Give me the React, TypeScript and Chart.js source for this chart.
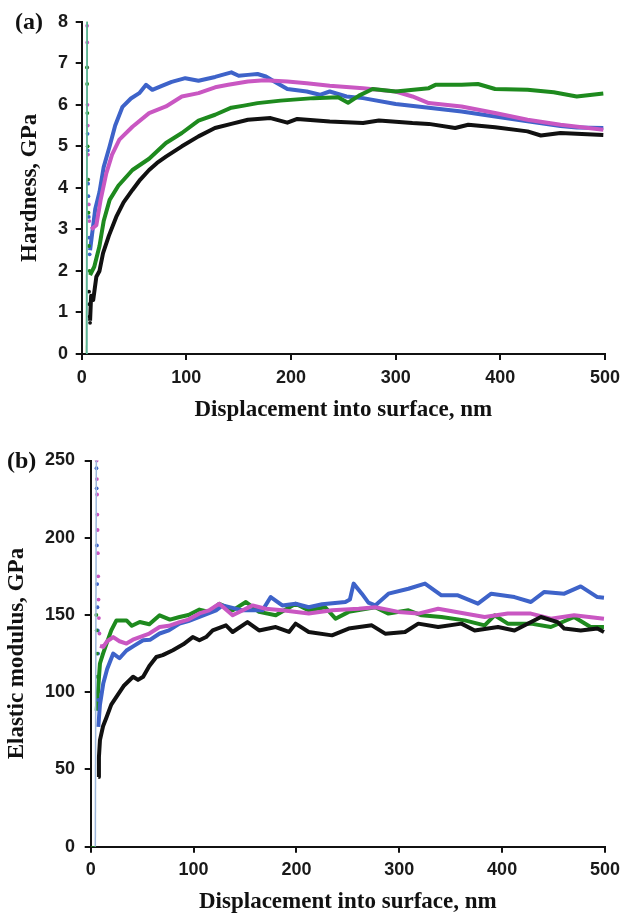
import React, { useEffect, useRef } from 'react';
import { Chart, registerables } from 'chart.js';

Chart.register(...registerables);

// ---------- tick labels ----------
const xTickValues = [0, 100, 200, 300, 400, 500];
const hardnessTickValues = [0, 1, 2, 3, 4, 5, 6, 7, 8];
const modulusTickValues = [0, 50, 100, 150, 200, 250];

// ---------- (a) Hardness, GPa vs displacement, nm ----------
const hardnessBlue: [number, number][] = [
  [8, 2.5], [10, 2.9], [13, 3.5], [17, 3.9], [21, 4.5], [26.7, 5.0], [32, 5.5], [39, 5.95], [47, 6.15],
  [55, 6.28], [61.5, 6.48], [67.5, 6.36], [76, 6.45], [86, 6.55], [99, 6.64], [111.6, 6.58], [127.5, 6.67],
  [143, 6.78], [150, 6.7], [158.8, 6.72], [168, 6.74], [176, 6.68], [184, 6.56], [196.5, 6.38], [215, 6.32],
  [227.6, 6.24], [237, 6.32], [253, 6.2], [268.8, 6.16], [300, 6.02], [331.6, 5.93], [363, 5.84], [395, 5.72],
  [426, 5.6], [457.5, 5.49], [473, 5.45], [498.4, 5.44],
];
const hardnessMagenta: [number, number][] = [
  [9, 3.0], [14, 3.1], [18, 3.7], [23.5, 4.35], [29, 4.8], [36, 5.16], [48.5, 5.47], [64.4, 5.8], [80.5, 5.96],
  [95.7, 6.2], [111.6, 6.28], [127.5, 6.42], [140, 6.48], [158.8, 6.56], [174.5, 6.59], [196.5, 6.56], [215, 6.52],
  [237, 6.46], [268.8, 6.4], [300, 6.32], [316, 6.2], [331.6, 6.04], [363, 5.96], [395, 5.8], [426, 5.64],
  [457.5, 5.52], [498.4, 5.4],
];
const hardnessGreen: [number, number][] = [
  [8, 1.9], [12, 2.1], [17, 2.6], [21, 3.2], [26.7, 3.71], [35, 4.05], [48.5, 4.43], [64.4, 4.7], [80.5, 5.08],
  [95.7, 5.32], [111.6, 5.62], [127.5, 5.76], [143, 5.93], [155, 5.98], [168, 6.04], [190, 6.1], [221.5, 6.16],
  [245, 6.18], [254.5, 6.05], [265, 6.22], [278, 6.38], [300, 6.32], [331.6, 6.4], [338, 6.48], [363, 6.48],
  [378.6, 6.5], [395, 6.38], [426, 6.36], [451, 6.3], [473, 6.2], [498.4, 6.27],
];
const hardnessBlack: [number, number][] = [
  [8, 0.8], [9, 1.4], [11, 1.3], [14, 1.86], [17, 2.0], [20.4, 2.43], [26, 2.85], [33, 3.3], [40, 3.65],
  [48.5, 3.95], [56, 4.2], [64.4, 4.43], [72, 4.6], [80.5, 4.75], [95.7, 5.0], [111.6, 5.24], [127.3, 5.44],
  [143, 5.54], [158.8, 5.64], [180.5, 5.68], [196.5, 5.57], [206, 5.66], [237, 5.6], [268.8, 5.56], [284, 5.62],
  [316, 5.56], [331.6, 5.54], [356.9, 5.44], [369.4, 5.52], [395, 5.46], [426, 5.36], [438.7, 5.26],
  [457.5, 5.32], [498.4, 5.27],
];
// scattered points of the initial contact spike
const hardnessSpikeMagenta: [number, number][] = [
  [5.2, 7.9], [5.3, 7.5], [5.4, 6.9], [5.5, 6.0], [5.8, 5.5], [6, 4.8], [6.3, 4.2], [6.8, 3.6], [7.3, 3.2],
];
const hardnessSpikeGreen: [number, number][] = [
  [5.0, 6.9], [5.2, 6.5], [5.4, 5.8], [5.7, 5.0], [6.0, 4.2], [6.5, 3.4], [7, 2.6], [7.5, 2.0],
];
const hardnessSpikeBlue: [number, number][] = [
  [5.6, 5.3], [5.8, 4.9], [6.1, 4.1], [6.4, 3.8], [6.8, 3.3], [7.2, 2.8], [7.6, 2.4],
];
const hardnessSpikeBlack: [number, number][] = [[7.0, 1.5], [7.3, 1.2], [7.6, 0.9], [8, 0.75]];
const hardnessLoadTeal: [number, number][] = [[4.3, 0], [5.0, 8.5]];
const hardnessLoadGreen: [number, number][] = [[4.6, 0], [5.2, 8.5]];

// ---------- (b) Elastic modulus, GPa vs displacement, nm ----------
const modulusGreen: [number, number][] = [
  [5.8, 88], [7, 100], [9, 118.6], [12, 125], [15.5, 131.6], [20, 140], [25, 146.5], [34.8, 146.5], [40, 143],
  [47.7, 145.5], [57, 144], [67, 149.8], [77, 147], [86.4, 148.7], [95, 150], [105.7, 153.5], [115, 152],
  [125, 157.3], [138, 153], [150.9, 158.4], [163.7, 152], [179.9, 149.8], [199.2, 157.3], [212, 153], [228, 155],
  [238, 147.6], [250.8, 152], [276.6, 155], [289.5, 150.9], [308.9, 153], [321.7, 149.8], [341, 148.7],
  [363.6, 146.5], [383, 143.3], [392.7, 149.8], [405.5, 144.4], [428, 144.4], [447.4, 142.2], [470, 148.7],
  [486, 142.2], [499, 142.2],
];
const modulusBlue: [number, number][] = [
  [7.4, 77.6], [9, 92], [12.2, 105.6], [16, 115], [21.9, 125], [28, 122], [34.8, 127], [42, 130], [50.9, 133.6],
  [58, 134], [67, 138], [76, 140], [86.4, 144.4], [95, 146], [105.7, 148.7], [121.9, 153], [128.2, 156.2],
  [147.6, 153], [167, 153], [175, 161.6], [186.3, 156.2], [199.2, 157.3], [212, 155], [225, 156.9], [247.6, 158.4],
  [252, 160], [255.6, 170.3], [263.6, 163.8], [270, 158], [276.6, 156.2], [289.5, 163.8], [308.9, 167],
  [325, 170.3], [341, 162.7], [357, 162.7], [376.5, 157.3], [389.4, 163.8], [412, 161.6], [428, 158.4],
  [441, 164.9], [460.4, 163.8], [476.4, 168.5], [492.6, 161.6], [499, 161.2],
];
const modulusMagenta: [number, number][] = [
  [9, 130], [12.2, 129.3], [16, 133], [21.9, 135.7], [28, 133], [34.8, 131.5], [41, 134], [47.7, 135.7], [57, 138],
  [67, 142.2], [76, 143], [86.4, 145.4], [95, 147], [105.7, 151], [115, 153], [125, 157.3], [138, 149.8],
  [157.4, 156.2], [170, 154], [186.3, 153], [212, 150.9], [234.6, 153], [260.5, 154], [276.6, 155], [299.2, 152],
  [318.5, 150.9], [337.8, 154], [363.6, 150.9], [383, 148.7], [405.5, 150.9], [428, 150.9], [447.4, 147.6],
  [470, 149.8], [499, 147.6],
];
const modulusBlack: [number, number][] = [
  [7.4, 45.2], [8, 58], [9, 69], [12, 78], [15.5, 84], [20, 92], [25, 97], [32, 104], [41.2, 110], [46, 108],
  [51, 110], [57, 117], [63.8, 122.8], [70, 124], [79.9, 127.2], [90, 131], [99.2, 135.7], [105.7, 133.6],
  [112.2, 135.7], [118.6, 140], [131.5, 143.3], [138, 139], [152.4, 145.4], [163.7, 140], [179.9, 142.2],
  [192.8, 139], [199.2, 144.4], [212, 139], [234.6, 136.8], [250.8, 141.2], [273.3, 143.3], [286.3, 137.9],
  [305.6, 139], [318.5, 144.4], [337.8, 142.2], [360.4, 144.4], [373.3, 140], [396, 142.2], [412, 140],
  [437.7, 148.7], [454, 145.4], [460.4, 141.2], [476.4, 140], [492.6, 141.2], [499, 139],
];
const modulusSpikeMagenta: [number, number][] = [
  [5.8, 250], [6, 238], [6.2, 228], [6.5, 215], [6.7, 205], [7, 190], [7.3, 175], [7.6, 160], [8, 148], [8.5, 138],
];
const modulusSpikeBlue: [number, number][] = [
  [5.6, 245], [5.8, 232], [6, 195], [6.3, 170], [6.6, 155], [6.9, 140], [7.2, 125], [7.4, 95],
];
const modulusSpikeGreen: [number, number][] = [[5.5, 150], [5.8, 140], [6.1, 125], [6.4, 110], [6.6, 100]];
const modulusLoadBlue: [number, number][] = [[4.5, 0], [5.5, 260]];
const modulusBaseGreen: [number, number][] = [[0, 0], [5, 0]];

const COLORS = {
  blue: '#3e63c9',
  magenta: '#c957c2',
  green: '#1e8a1e',
  black: '#111111',
  teal: '#6fbfb3',
  lightBlue: '#9db8dc',
};

const toXY = (arr: [number, number][]) => arr.map(([x, y]) => ({ x, y }));

const curve = (arr: [number, number][], color: string) => ({
  data: toXY(arr),
  showLine: true,
  borderColor: color,
  borderWidth: 4,
  pointRadius: 0,
  tension: 0,
  borderJoinStyle: 'round' as const,
});
const dots = (arr: [number, number][], color: string) => ({
  data: toXY(arr),
  showLine: false,
  pointRadius: 1.9,
  pointBorderWidth: 0,
  pointBackgroundColor: color,
});
const thin = (arr: [number, number][], color: string) => ({
  data: toXY(arr),
  showLine: true,
  borderColor: color,
  borderWidth: 1.5,
  pointRadius: 0,
});

const TICK_FONT = { family: "'Liberation Sans', Arial, sans-serif", weight: 'bold' as const, size: 18 };
const TITLE_FONT = { family: "'Liberation Serif', 'Times New Roman', serif", weight: 'bold' as const, size: 23, lineHeight: 1 };

interface Cfg {
  yTitle: string;
  yMax: number;
  yTicks: number[];
  yWidth: number;
  xHeight: number;
  padTop: number;
  padRight: number;
  yTitlePad: number;
  xTitlePad: number;
  yTickPad: number;
}

function makeOptions(c: Cfg): any {
  return {
    responsive: false,
    animation: false,
    events: [],
    layout: { padding: { top: c.padTop, right: c.padRight, bottom: 0, left: 0 } },
    plugins: { legend: { display: false }, tooltip: { enabled: false } },
    scales: {
      x: {
        type: 'linear',
        min: 0,
        max: 500,
        afterBuildTicks: (s: any) => {
          s.ticks = xTickValues.map((v) => ({ value: v }));
        },
        afterFit: (s: any) => {
          s.height = c.xHeight;
        },
        grid: { drawOnChartArea: false, drawTicks: true, tickLength: 6, tickWidth: 2, tickColor: '#111', lineWidth: 2 },
        border: { display: true, color: '#111', width: 2 },
        ticks: { color: '#1a1a1a', font: TICK_FONT, padding: 7, maxRotation: 0, autoSkip: false },
        title: {
          display: true,
          text: 'Displacement into surface, nm',
          color: '#111',
          font: TITLE_FONT,
          padding: { top: 0, bottom: c.xTitlePad },
        },
      },
      y: {
        type: 'linear',
        min: 0,
        max: c.yMax,
        afterBuildTicks: (s: any) => {
          s.ticks = c.yTicks.map((v) => ({ value: v }));
        },
        afterFit: (s: any) => {
          s.width = c.yWidth;
        },
        grid: { drawOnChartArea: false, drawTicks: true, tickLength: 6, tickWidth: 2, tickColor: '#111', lineWidth: 2 },
        border: { display: true, color: '#111', width: 2 },
        ticks: { color: '#1a1a1a', font: TICK_FONT, padding: c.yTickPad, autoSkip: false },
        title: {
          display: true,
          text: c.yTitle,
          color: '#111',
          font: TITLE_FONT,
          padding: { top: c.yTitlePad, bottom: 0 },
        },
      },
    },
  };
}

function ChartCanvas({ width, height, datasets, options, top }: any) {
  const ref = useRef<HTMLCanvasElement | null>(null);
  useEffect(() => {
    if (!ref.current) return;
    const chart = new Chart(ref.current, {
      type: 'scatter',
      data: { datasets },
      options,
    });
    return () => chart.destroy();
  }, []);
  return (
    <canvas
      ref={ref}
      width={width}
      height={height}
      style={{ position: 'absolute', left: 0, top, width, height }}
    />
  );
}

export default function App() {
  const hardnessDatasets = [
    thin(hardnessLoadTeal, COLORS.teal),
    thin(hardnessLoadGreen, COLORS.green),
    dots(hardnessSpikeBlack, COLORS.black),
    dots(hardnessSpikeGreen, COLORS.green),
    dots(hardnessSpikeBlue, COLORS.blue),
    dots(hardnessSpikeMagenta, COLORS.magenta),
    curve(hardnessBlack, COLORS.black),
    curve(hardnessGreen, COLORS.green),
    curve(hardnessMagenta, COLORS.magenta),
    curve(hardnessBlue, COLORS.blue),
  ];
  const modulusDatasets = [
    thin(modulusLoadBlue, COLORS.lightBlue),
    thin(modulusBaseGreen, COLORS.green),
    dots(modulusSpikeGreen, COLORS.green),
    dots(modulusSpikeBlue, COLORS.blue),
    dots(modulusSpikeMagenta, COLORS.magenta),
    curve(modulusBlack, COLORS.black),
    curve(modulusMagenta, COLORS.magenta),
    curve(modulusBlue, COLORS.blue),
    curve(modulusGreen, COLORS.green),
  ];

  const hardnessOptions = makeOptions({
    yTitle: 'Hardness, GPa',
    yMax: 8,
    yTicks: hardnessTickValues,
    yWidth: 81.7,
    xHeight: 86,
    padTop: 21.7,
    padRight: 15.3,
    yTitlePad: 18.5,
    xTitlePad: 18.5,
    yTickPad: 7.7,
  });
  const modulusOptions = makeOptions({
    yTitle: 'Elastic modulus, GPa',
    yMax: 250,
    yTicks: modulusTickValues,
    yWidth: 90.7,
    xHeight: 67.3,
    padTop: 20,
    padRight: 19,
    yTitlePad: 5.2,
    xTitlePad: 0,
    yTickPad: 9.7,
  });

  const panelLabel: React.CSSProperties = {
    position: 'absolute',
    fontFamily: "'Liberation Serif', 'Times New Roman', serif",
    fontWeight: 'bold',
    fontSize: 24,
    lineHeight: '24px',
    color: '#111',
    whiteSpace: 'nowrap',
  };

  return (
    <div style={{ position: 'absolute', left: 0, top: 0, width: 627, height: 914, background: '#fff', overflow: 'hidden' }}>
      <ChartCanvas width={627} height={440} top={0} datasets={hardnessDatasets} options={hardnessOptions} />
      <ChartCanvas width={627} height={474} top={440} datasets={modulusDatasets} options={modulusOptions} />
      <div style={{ ...panelLabel, left: 15, top: 9 }}>(a)</div>
      <div style={{ ...panelLabel, left: 7, top: 448 }}>(b)</div>
    </div>
  );
}
